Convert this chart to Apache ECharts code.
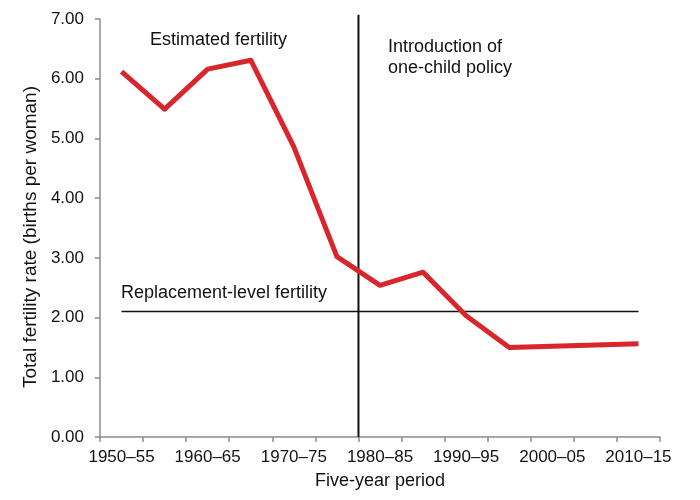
<!DOCTYPE html>
<html lang="en">
  <head>
    <meta charset="UTF-8" />
    <title>Total fertility rate</title>
    <script src="https://cdn.jsdelivr.net/npm/echarts@6/dist/echarts.min.js"></script>
    <style>
      * { margin: 0; padding: 0; box-sizing: border-box; }
      body { background: #fff; }
      #chart { width: 700px; height: 500px; }
    </style>
  </head>
  <body>
    <div id="chart"></div>
    <script>
      // five-year periods
      const periods = [
        "1950–55", "1955–60", "1960–65", "1965–70", "1970–75", "1975–80",
        "1980–85", "1985–90", "1990–95", "1995–2000", "2000–05", "2005–10", "2010–15"
      ];
      const fertility = [6.12, 5.49, 6.16, 6.31, 4.86, 3.02, 2.54, 2.76, 2.03, 1.50, 1.52, 1.54, 1.56];
      const replacementLevel = 2.1;
      const policyStart = 6; // boundary before 1980–85
      const yTicks = [0, 1, 2, 3, 4, 5, 6, 7];

      const font = "'Liberation Sans', Arial, sans-serif";
      const axisGray = "#8c8c8c";

      const chart = echarts.init(document.getElementById("chart"));

      const option = {
        animation: false,
        textStyle: { fontFamily: font },
        grid: { left: 100, right: 40, top: 19, bottom: 63 },
        xAxis: [
          {
            type: "category",
            data: periods,
            boundaryGap: true,
            name: "Five-year period",
            nameLocation: "middle",
            nameGap: 35,
            nameTextStyle: { fontSize: 18, color: "#111", fontFamily: font },
            axisLine: { lineStyle: { color: axisGray, width: 1.5 } },
            axisTick: { show: true, length: 5, alignWithLabel: false, interval: 0, lineStyle: { color: axisGray, width: 1.5 } },
            axisLabel: { interval: 1, margin: 12, fontSize: 17, color: "#111", fontFamily: font },
            splitLine: { show: false },
          },
          {
            // hidden helper axis for the reference lines
            type: "value",
            min: 0,
            max: periods.length,
            show: false,
          },
        ],
        yAxis: {
          type: "value",
          min: yTicks[0],
          max: yTicks[yTicks.length - 1],
          interval: 1,
          name: "Total fertility rate (births per woman)",
          nameLocation: "middle",
          nameGap: 53,
          nameTextStyle: { fontSize: 19, color: "#111", fontFamily: font, padding: [0, 18, 0, 0] },
          axisLine: { show: true, lineStyle: { color: axisGray, width: 1.5 } },
          axisTick: { show: true, length: 5, lineStyle: { color: axisGray, width: 1.5 } },
          axisLabel: {
            margin: 16,
            fontSize: 17,
            color: "#111",
            fontFamily: font,
            formatter: (v) => v.toFixed(2),
          },
          splitLine: { show: false },
        },
        series: [
          {
            name: "Replacement level",
            type: "line",
            xAxisIndex: 1,
            data: [[0.5, replacementLevel], [periods.length - 0.5, replacementLevel]],
            symbol: "none",
            lineStyle: { color: "#111", width: 1.5 },
            silent: true,
          },
          {
            name: "One-child policy",
            type: "line",
            xAxisIndex: 1,
            clip: false,
            data: [[policyStart, 0], [policyStart, 7.07]],
            symbol: "none",
            lineStyle: { color: "#111", width: 2 },
            silent: true,
          },
          {
            name: "Estimated fertility",
            type: "line",
            data: fertility,
            symbol: "none",
            lineStyle: { color: "#d8262c", width: 5, join: "round" },
          },
        ],
        graphic: [
          {
            type: "text",
            left: 150,
            top: 31,
            style: { text: "Estimated fertility", fill: "#111", font: "18px " + font },
          },
          {
            type: "text",
            left: 388,
            top: 37,
            style: {
              text: "Introduction of\none-child policy",
              fill: "#111",
              font: "18px " + font,
              lineHeight: 21,
            },
          },
          {
            type: "text",
            left: 121,
            top: 284,
            style: { text: "Replacement-level fertility", fill: "#111", font: "18px " + font },
          },
        ],
      };

      chart.setOption(option);
    </script>
  </body>
</html>
